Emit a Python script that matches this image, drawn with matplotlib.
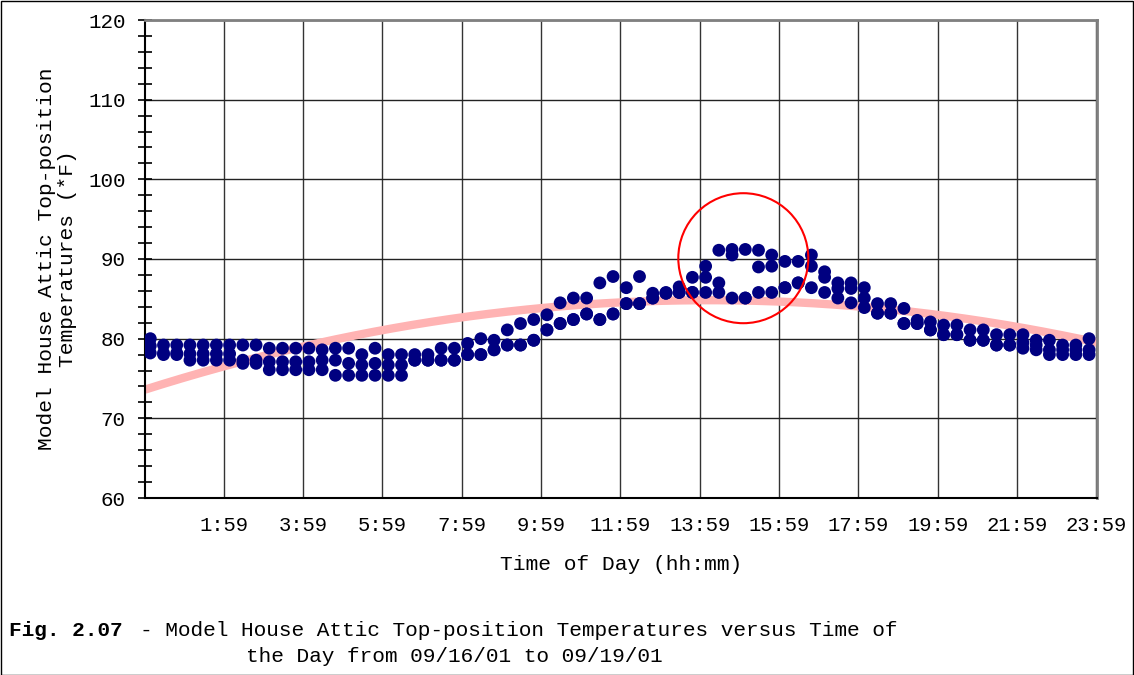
import numpy as np
import matplotlib
matplotlib.use("Agg")
import matplotlib.pyplot as plt
from matplotlib.patches import Ellipse, Rectangle
from matplotlib.ticker import MultipleLocator

# sample times: every 20 min starting 00:08 (minutes since midnight)
minutes = [8 + 20 * k for k in range(72)]

# three days of readings (deg F) per time slot
day_a = [80.0, 79.2, 79.2, 79.2, 79.2, 79.2, 79.2, 79.2, 79.2, 78.8, 78.8, 78.8,
         78.8, 78.6, 78.8, 78.8, 78.0, 78.8, 78.0, 78.0, 78.0, 78.0, 78.8, 78.8,
         79.4, 80.0, 79.8, 81.1, 81.9, 82.4, 83.0, 84.5, 85.1, 85.1, 87.0, 87.8,
         86.4, 87.8, 85.7, 85.8, 86.5, 87.7, 89.1, 91.1, 91.2, 91.2, 91.1, 90.5,
         89.7, 89.7, 90.5, 88.4, 87.0, 87.0, 86.4, 84.4, 84.4, 83.8, 82.3, 82.1,
         81.7, 81.7, 81.1, 81.1, 80.5, 80.5, 80.5, 79.8, 79.8, 79.2, 79.2, 80.0]
day_b = [79.1, 78.2, 78.2, 78.1, 78.1, 78.1, 78.1, 77.3, 77.3, 77.1, 77.1, 77.1,
         77.1, 77.3, 77.3, 76.9, 76.7, 76.9, 76.7, 76.7, 77.3, 77.3, 77.3, 77.3,
         78.0, 78.0, 78.6, 79.2, 79.2, 79.8, 81.1, 81.9, 82.4, 83.1, 82.4, 83.1,
         84.4, 84.4, 85.1, 85.7, 85.8, 85.8, 87.7, 87.0, 90.5, 85.1, 89.0, 89.1,
         86.4, 87.0, 89.1, 87.7, 86.3, 86.3, 85.1, 83.2, 83.2, 81.9, 81.9, 81.1,
         80.5, 80.5, 79.8, 79.8, 79.2, 79.2, 79.5, 79.2, 78.6, 78.6, 78.6, 78.6]
day_c = [78.2, 78.0, 78.0, 77.3, 77.3, 77.3, 77.3, 76.9, 76.9, 76.1, 76.1, 76.1,
         76.1, 76.1, 75.4, 75.4, 75.4, 75.4, 75.4, 75.4, 77.3, 77.3, 77.3, 77.3,
         78.0, 78.0, 78.6, 79.2, 79.2, 79.8, 81.1, 81.9, 82.4, 83.1, 82.4, 83.1,
         84.4, 84.4, 85.1, 85.7, 85.8, 85.8, 85.8, 85.8, 85.1, 85.1, 85.8, 85.8,
         86.4, 87.0, 86.4, 85.8, 85.1, 84.5, 83.9, 83.2, 83.2, 81.9, 81.9, 81.1,
         80.5, 80.5, 79.8, 79.8, 79.2, 79.2, 78.8, 78.6, 78.0, 78.0, 78.0, 78.0]

# trendline shown on the chart (2nd-order polynomial)
trend_hours = [0, 2, 4, 8, 14, 24]
trend_vals = [73.6, 76.6, 79.0, 82.6, 84.9, 79.5]

xtick_pos = [119, 239, 359, 479, 599, 719, 839, 959, 1079, 1199, 1319, 1439]
xtick_labels = ["1:59", "3:59", "5:59", "7:59", "9:59", "11:59", "13:59",
                "15:59", "17:59", "19:59", "21:59", "23:59"]

mono = "Liberation Mono"
plt.rcParams["font.family"] = mono

fig = plt.figure(figsize=(11.34, 6.75), dpi=100)
ax = fig.add_axes([145 / 1134, 1 - 498 / 675, 952 / 1134, 478 / 675])

ax.set_xlim(0, 1440)
ax.set_ylim(60, 120)

# grid
for xv in xtick_pos:
    ax.axvline(xv, color="#333333", lw=1, zorder=1)
for yv in range(70, 121, 10):
    ax.axhline(yv, color="#222222", lw=1, zorder=1)

# trendline (quadratic through the read points)
coef = np.polyfit(np.array(trend_hours) * 60, trend_vals, 2)
tt = np.linspace(0, 1440, 300)
ax.plot(tt, np.polyval(coef, tt), color="#FFB3B3", lw=6, solid_capstyle="butt", zorder=2)

for series in (day_a, day_b, day_c):
    ax.scatter(minutes, series, s=85, color="#000080", edgecolors="none", zorder=3)

# red circle highlighting the afternoon peak (drawn circular in pixel space)
ax.add_patch(Ellipse((905, 90.1), width=130 / 952 * 1440, height=130 / 478 * 60,
                     fill=False, edgecolor="#FF0000", lw=1.5, zorder=4))

ax.set_xticks(xtick_pos)
ax.set_xticklabels(xtick_labels)
ax.yaxis.set_major_locator(MultipleLocator(10))
ax.yaxis.set_minor_locator(MultipleLocator(2))
ax.tick_params(axis="x", length=0, pad=13, labelsize=14.8)
ax.tick_params(axis="y", which="both", direction="inout", length=10, width=1.2, labelsize=15, pad=9)

for side in ("top", "right"):
    ax.spines[side].set_color("#808080")
    ax.spines[side].set_linewidth(2)
ax.spines["left"].set_linewidth(1.5)
ax.spines["bottom"].set_linewidth(1.5)

ax.set_xlabel("Time of Day (hh:mm)", fontsize=15.3, labelpad=14)
ax.set_ylabel("Model House Attic Top-position\nTemperatures (*F)", fontsize=15.3,
              labelpad=8, linespacing=1.15)

# caption
cap = 15.25
fig.text(9 / 1134, 1 - 631 / 675, "Fig. 2.07", fontsize=cap, fontweight="bold", va="center")
fig.text(140 / 1134, 1 - 631 / 675, "- Model House Attic Top-position Temperatures versus Time of",
         fontsize=cap, va="center")
fig.text(246 / 1134, 1 - 656 / 675, "the Day from 09/16/01 to 09/19/01", fontsize=cap, va="center")

fig.add_artist(Rectangle((0.5 / 1134, 0.5 / 675), 1 - 1.5 / 1134, 1 - 1.5 / 675,
                         transform=fig.transFigure, fill=False, edgecolor="black", lw=1))

fig.savefig("out.png", dpi=100, facecolor="white")
